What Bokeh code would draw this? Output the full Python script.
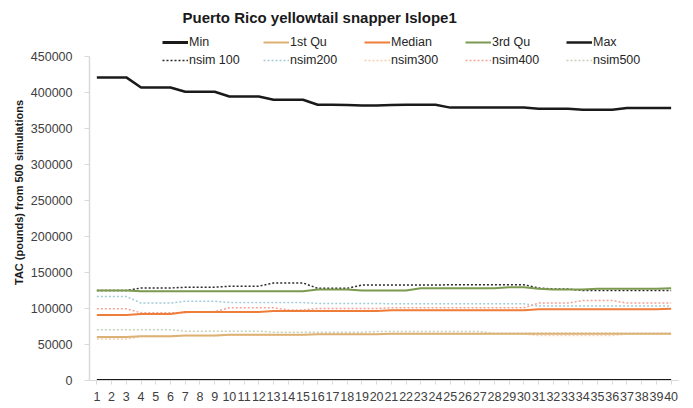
from bokeh.plotting import figure
from bokeh.models import (Legend, LegendItem, Label, FixedTicker, BasicTickFormatter,
                          Range1d, ColumnDataSource)
from bokeh.embed import file_html
from bokeh.resources import INLINE

# ---------------- data ----------------
years = list(range(1, 41))
x_tick_labels = [str(v) for v in years]
y_ticks = [0, 50000, 100000, 150000, 200000, 250000, 300000, 350000, 400000, 450000]

min_vals = [0] * 40
max_vals = ([421000] * 3 + [407000] * 3 + [401000] * 3 + [394500] * 3 + [390000] * 3 +
            [383000, 383000, 382500, 382000, 382000, 382500, 383000, 383000, 383000] +
            [379000] * 6 + [377500] * 3 + [376000] * 3 + [378500] * 4)
q1_vals = ([60500] * 3 + [61500] * 3 + [62500] * 3 + [63500] * 6 + [64300] * 5 + [65000] * 20)
median_vals = ([91000] * 3 + [92500] * 3 + [95000] * 6 + [96500] * 8 + [97500] * 10 +
               [99000] * 9 + [99500])
q3_vals = ([125000] * 3 + [124000] * 12 + [126500] * 3 + [125000] * 4 + [128000] * 6 +
           [129500] * 2 + [127500] + [126500] * 3 + [127500] * 5 + [128000])
nsim100 = ([125000] * 3 + [128500] * 3 + [129500] * 3 + [131000] * 3 + [135500] * 3 +
           [128000] * 3 + [132500] * 6 + [133000] * 6 + [128500] + [127000] * 2 + [125000] * 7)
nsim200 = ([116700] * 3 + [107500] * 3 + [110000] * 3 + [108300] * 6 + [107000] * 5 +
           [106500] * 10 + [103500] * 10)
nsim300 = ([57500] * 3 + [61000] * 3 + [62000] * 3 + [63000] * 6 + [64500] * 15 +
           [62500] * 6 + [64500] * 4)
nsim400 = ([99500] * 3 + [94000] * 4 + [95500] * 2 + [101000] * 4 + [98000] * 2 +
           [100000] * 5 + [101000] * 10 + [107500] * 3 + [111000] * 3 + [107500] * 4)
nsim500 = ([70500] * 6 + [68500] * 6 + [67000] * 7 + [68000] * 8 + [65500] * 13)

series = [
    ("Min", min_vals, "#1a1a1a", 3, "solid"),
    ("1st Qu", q1_vals, "#DDB173", 2, "solid"),
    ("Median", median_vals, "#EE7D3A", 2, "solid"),
    ("3rd Qu", q3_vals, "#7C9A4F", 2, "solid"),
    ("Max", max_vals, "#1a1a1a", 2.5, "solid"),
    ("nsim 100", nsim100, "#2b2b2b", 1.5, "2 2"),
    ("nsim200", nsim200, "#A3CCD8", 1.5, "2 2"),
    ("nsim300", nsim300, "#F5CFAF", 1.5, "2 2"),
    ("nsim400", nsim400, "#F3A396", 1.5, "2 2"),
    ("nsim500", nsim500, "#C6D1BA", 1.5, "2 2"),
]

# ---------------- figure ----------------
# frame extends above 450000 to host title + legend; the axis itself is bounded
Y_TOP = 450000 * 376 / 324
p = figure(frame_width=589, frame_height=376, output_backend="svg", toolbar_location=None,
           x_range=Range1d(0.5, 40.5), y_range=Range1d(0, Y_TOP),
           min_border_left=89, min_border_top=4, min_border_right=8, min_border_bottom=24)
p.title.visible = False
p.outline_line_color = None
p.xgrid.visible = False
p.ygrid.visible = False
p.background_fill_color = "white"

order = [5, 6, 7, 8, 9, 1, 2, 3, 4, 0]
renderers = {}
for i in order:
    name, vals, color, w, dash = series[i]
    src = ColumnDataSource(dict(x=years, y=vals))
    r = p.line("x", "y", source=src, line_color=color, line_width=w, line_dash=dash)
    renderers[i] = r

items = [LegendItem(label=series[i][0], renderers=[renderers[i]]) for i in range(10)]

legend = Legend(items=items, orientation="horizontal", nrows=2, location=(73, 312),
                glyph_width=26, glyph_height=16, label_height=16, label_width=72,
                label_standoff=1, spacing=2, padding=0, margin=0,
                border_line_color=None, background_fill_alpha=0,
                label_text_font="Liberation Sans", label_text_font_size="12.5px",
                label_text_color="#262626")
p.add_layout(legend, "center")

title = Label(x=93, y=363, x_units="screen", y_units="screen",
              text="Puerto Rico yellowtail snapper Islope1", text_font="Liberation Sans",
              text_font_size="15px", text_font_style="bold", text_baseline="middle",
              text_color="#1a1a1a")
p.add_layout(title)

# axes
yax = p.yaxis[0]
yax.ticker = FixedTicker(ticks=y_ticks)
yax.bounds = (0, 450000)
yax.formatter = BasicTickFormatter(use_scientific=False)
yax.axis_line_color = "#d9d9d9"
yax.axis_line_width = 1.5
yax.major_tick_line_color = "#d9d9d9"
yax.major_tick_out = 5
yax.major_tick_in = 0
yax.minor_tick_line_color = None
yax.major_label_standoff = 12
yax.major_label_text_font = "Liberation Sans"
yax.major_label_text_font_size = "12.5px"
yax.major_label_text_color = "#404040"
yax.axis_label = "TAC (pounds) from 500 simulations"
yax.axis_label_text_font = "Liberation Sans"
yax.axis_label_text_font_size = "11px"
yax.axis_label_text_font_style = "bold"
yax.axis_label_text_color = "#1a1a1a"
yax.axis_label_standoff = 3

xax = p.xaxis[0]
xax.ticker = FixedTicker(ticks=years)
xax.major_label_overrides = {y: lab for y, lab in zip(years, x_tick_labels)}
xax.axis_line_color = "#d9d9d9"
xax.major_tick_line_color = "#d9d9d9"
xax.major_tick_out = 4
xax.major_tick_in = 0
xax.minor_tick_line_color = None
xax.major_label_standoff = 7
xax.major_label_text_font = "Liberation Sans"
xax.major_label_text_font_size = "12.5px"
xax.major_label_text_color = "#404040"

open("out.html", "w").write(file_html(p, INLINE))
